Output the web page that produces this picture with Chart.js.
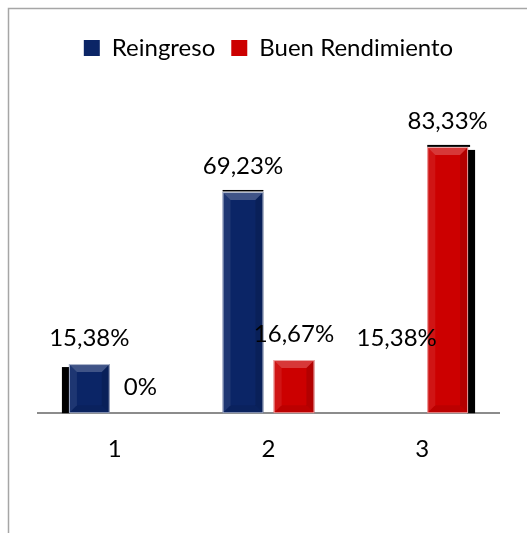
<!DOCTYPE html>
<html>
<head>
<meta charset="utf-8">
<script src="https://cdn.jsdelivr.net/npm/chart.js@4"></script>
<style>
    html, body { margin: 0; padding: 0; background: #fff; }
    #wrap { width: 527px; height: 533px; position: relative; }
</style>
</head>
<body>
<div id="wrap"><canvas id="barChart" width="527" height="533"></canvas></div>
<script>
/* ======================================================
   DATA
====================================================== */
const categories = ['1', '2', '3'];
const reingreso = [15.38, 69.23, 15.38];
const buenRendimiento = [0, 16.67, 83.33];

const BLUE = '#0b2566';
const RED = '#cc0000';

// third Reingreso bar has no fill in the original, only its label shows
const blueFills = [BLUE, BLUE, 'rgba(0,0,0,0)'];

const fmt = v => (v === 0 ? '0' : v.toFixed(2).replace('.', ',')) + '%';

/* ======================================================
   PLUGINS
====================================================== */
const frame = {
    id: 'frame',
    beforeDraw(chart) {
        const c = chart.ctx;
        c.save();
        c.fillStyle = '#fff';
        c.fillRect(0, 0, chart.width, chart.height);
        c.strokeStyle = '#a6a6a6';
        c.lineWidth = 1.5;
        c.strokeRect(8.5, 8.5, chart.width + 20, chart.height + 20);
        c.restore();
    }
};

// bevel highlight + drop shadows like the Excel 3D style
const bevel = {
    id: 'bevel',
    beforeDatasetsDraw(chart) {
        const c = chart.ctx;
        const base = chart.scales.y.getPixelForValue(0);
        c.save();
        c.fillStyle = '#000';
        const b1 = chart.getDatasetMeta(0).data[0];
        c.fillRect(b1.x - b1.width / 2 - 7, b1.y + 3, 8, base - b1.y - 3);
        const b3 = chart.getDatasetMeta(1).data[2];
        c.fillRect(b3.x + b3.width / 2 - 1, b3.y + 3, 8, base - b3.y - 3);
        c.fillRect(b3.x - b3.width / 2, b3.y - 2, b3.width + 2, 2);
        const b2 = chart.getDatasetMeta(0).data[1];
        c.fillRect(b2.x - b2.width / 2, b2.y - 2, b2.width, 1.5);
        c.restore();
    },
    afterDatasetsDraw(chart) {
        const c = chart.ctx;
        c.save();
        chart.data.datasets.forEach((ds, di) => {
            chart.getDatasetMeta(di).data.forEach((bar, i) => {
                if (ds.data[i] === 0 || (di === 0 && i === 2)) return;
                const l = bar.x - bar.width / 2, r = bar.x + bar.width / 2;
                const t = bar.y, b = bar.base;
                const d = 8;
                // top facet
                c.fillStyle = 'rgba(255,255,255,0.22)';
                c.beginPath();
                c.moveTo(l, t); c.lineTo(r, t); c.lineTo(r - d, t + d); c.lineTo(l + d, t + d);
                c.closePath(); c.fill();
                // left facet
                c.fillStyle = 'rgba(255,255,255,0.08)';
                c.beginPath();
                c.moveTo(l, t); c.lineTo(l + d, t + d); c.lineTo(l + d, b - d); c.lineTo(l, b);
                c.closePath(); c.fill();
                // right / bottom facets
                c.fillStyle = 'rgba(0,0,0,0.12)';
                c.beginPath();
                c.moveTo(r, t); c.lineTo(r - d, t + d); c.lineTo(r - d, b - d); c.lineTo(r, b);
                c.closePath(); c.fill();
                c.fillStyle = 'rgba(0,0,0,0.08)';
                c.beginPath();
                c.moveTo(l, b); c.lineTo(l + d, b - d); c.lineTo(r - d, b - d); c.lineTo(r, b);
                c.closePath(); c.fill();
                c.strokeStyle = 'rgba(255,255,255,0.6)';
                c.lineWidth = 1;
                c.strokeRect(l + 0.5, t + 0.5, bar.width - 1, b - t - 1);
            });
        });
        c.restore();
    }
};

const valueLabels = {
    id: 'valueLabels',
    afterDraw(chart) {
        const c = chart.ctx;
        c.save();
        c.font = '24px Lato';
        c.fillStyle = '#000';
        c.textAlign = 'center';
        c.textBaseline = 'middle';
        chart.data.datasets.forEach((ds, di) => {
            chart.getDatasetMeta(di).data.forEach((bar, i) => {
                c.fillText(fmt(ds.data[i]), bar.x, bar.y - 26);
            });
        });
        c.restore();
    }
};

/* ======================================================
   CHART
====================================================== */
new Chart(document.getElementById('barChart'), {
    type: 'bar',
    data: {
        labels: categories,
        datasets: [
            {
                label: 'Reingreso',
                data: reingreso,
                backgroundColor: blueFills,
                categoryPercentage: 0.664,
                barPercentage: 0.8
            },
            {
                label: 'Buen Rendimiento',
                data: buenRendimiento,
                backgroundColor: RED,
                categoryPercentage: 0.664,
                barPercentage: 0.8
            }
        ]
    },
    options: {
        responsive: false,
        animation: false,
        layout: { padding: { left: 38, right: 28, top: 20, bottom: 47 } },
        plugins: {
            legend: {
                display: true,
                position: 'top',
                labels: {
                    font: { family: 'Lato', size: 24 },
                    color: '#000',
                    boxWidth: 16,
                    boxHeight: 16,
                    padding: 16,
                    generateLabels: chart => chart.data.datasets.map((ds, i) => ({
                        text: ds.label,
                        fillStyle: i === 0 ? BLUE : RED,
                        strokeStyle: i === 0 ? BLUE : RED,
                        lineWidth: 0,
                        datasetIndex: i
                    }))
                }
            },
            tooltip: { enabled: false }
        },
        scales: {
            x: {
                grid: { display: false, drawTicks: false },
                border: { color: '#8c8c8c', width: 2 },
                ticks: {
                    color: '#000',
                    font: { family: 'Lato', size: 24 },
                    padding: 22
                }
            },
            y: {
                display: false,
                min: 0,
                max: 107.4
            }
        }
    },
    plugins: [frame, bevel, valueLabels]
});
</script>
</body>
</html>
